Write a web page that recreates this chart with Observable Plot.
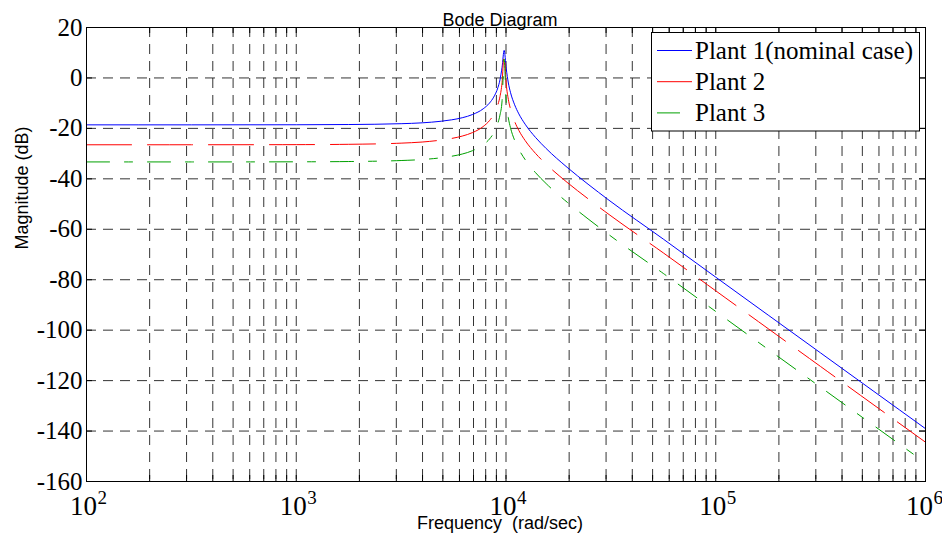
<!DOCTYPE html>
<html><head><meta charset="utf-8">
<script src="https://cdn.jsdelivr.net/npm/d3@7"></script>
<script src="https://cdn.jsdelivr.net/npm/@observablehq/plot@0.6"></script>
<style>body{margin:0;background:#fff;} svg text{white-space:pre;}</style>
</head><body><div id="chart"></div>
<script>
// Frequencies (rad/sec) at which the curves were read
const freqs = [100, 316.2, 1000, 1778, 3162, 3981, 4912, 5511, 6184, 6937, 7784, 8341, 8735, 9146, 9359, 9577, 9800, 10028, 10262, 10501, 10996, 11514, 12337, 13843, 15532, 19554, 24617, 30990, 56234, 100000, 177828, 316228, 562341, 1000000];
// Magnitudes (dB)
const plant1Db = [-18.60, -18.60, -18.56, -18.47, -18.14, -17.80, -17.16, -16.60, -15.78, -14.48, -12.24, -9.97, -7.61, -3.87, -0.78, 4.24, 10.93, 3.63, -2.00, -5.69, -10.65, -14.24, -18.34, -23.63, -27.97, -35.42, -42.13, -48.50, -63.89, -78.99, -94.03, -109.04, -124.05, -139.05];
const plant2Db = [-26.50, -26.49, -26.44, -26.31, -25.85, -25.41, -24.62, -23.98, -23.05, -21.64, -19.27, -16.92, -14.51, -10.63, -7.41, -1.87, 9.83, -2.42, -8.51, -12.29, -17.27, -20.80, -24.81, -29.96, -34.17, -41.39, -47.91, -54.15, -69.36, -84.40, -99.41, -114.42, -129.43, -144.42];
const plant3Db = [-33.30, -33.30, -33.25, -33.14, -32.74, -32.35, -31.64, -31.04, -30.17, -28.81, -26.52, -24.21, -21.83, -17.93, -14.73, -9.09, 7.5, -9.67, -15.88, -19.70, -24.74, -28.30, -32.37, -37.59, -41.88, -49.24, -55.87, -62.19, -77.51, -92.59, -107.62, -122.62, -137.63, -152.63];

const seriesNames = ["Plant 1(nominal case)", "Plant 2", "Plant 3"];
const seriesColors = ["#0000ff", "#ff0000", "#00a000"];
const seriesDash = [null, "45,16", "23,15,8,15"];
const xTickExponents = [2, 3, 4, 5, 6];
const yTicks = [-160, -140, -120, -100, -80, -60, -40, -20, 0, 20];
const titleText = "Bode Diagram";
const xLabel = "Frequency  (rad/sec)";
const yLabel = "Magnitude (dB)";

const W = 942, H = 533, mL = 86, mR = 17, mT = 27, mB = 52;
const fw = W - mL - mR, fh = H - mT - mB;
const serif = "Liberation Serif, 'Times New Roman', serif";
const sans = "Liberation Sans, Arial, sans-serif";

const rows = (db) => freqs.map((f, i) => ({f, db: db[i]}));
const xMinor = [];
for (const e of [2, 3, 4, 5]) for (let m = 1; m <= 9; m++) xMinor.push(m * 10 ** e);
xMinor.push(1e6);
const xGrid = xMinor.filter(v => v > 100 && v < 1e6);
const yGrid = yTicks.filter(v => v > -160 && v < 20);
const series = [plant1Db, plant2Db, plant3Db];
const expMain = xTickExponents.slice(0, -1);
const expLast = xTickExponents.slice(-1);

const xLabelMarks = (data, shift) => [
  Plot.text(data, {x: e => 10 ** e, text: () => "10", frameAnchor: "bottom", textAnchor: "middle",
    lineAnchor: "bottom", dx: -3 + shift, dy: 33, fontFamily: serif, fontSize: 27, fill: "#000"}),
  Plot.text(data, {x: e => 10 ** e, text: e => String(e), frameAnchor: "bottom", textAnchor: "start",
    lineAnchor: "bottom", dx: 11 + shift, dy: 22, fontFamily: serif, fontSize: 19, fill: "#000"})
];

const chart = Plot.plot({
  width: W, height: H, marginLeft: mL, marginRight: mR, marginTop: mT, marginBottom: mB,
  style: {background: "#fff", overflow: "visible"},
  x: {type: "log", domain: [1e2, 1e6], axis: null},
  y: {domain: [-160, 20], axis: null},
  marks: [
    Plot.ruleX(xGrid, {x: d => d, stroke: "#000", strokeOpacity: 0.8, strokeDasharray: "10,7"}),
    Plot.ruleY(yGrid, {y: d => d, stroke: "#000", strokeOpacity: 0.8, strokeDasharray: "10,7"}),
    ...series.map((s, i) => Plot.line(rows(s), {
      x: "f", y: "db", stroke: seriesColors[i], strokeWidth: 1,
      strokeDasharray: seriesDash[i] || undefined, curve: "monotone-x"
    })),
    Plot.frame({stroke: "#000"}),
    Plot.ruleX(xMinor, {x: d => d, insetTop: fh - 6, stroke: "#000"}),
    Plot.ruleX(xMinor, {x: d => d, insetBottom: fh - 6, stroke: "#000"}),
    Plot.ruleY(yTicks, {y: d => d, insetRight: fw - 6, stroke: "#000"}),
    Plot.ruleY(yTicks, {y: d => d, insetLeft: fw - 6, stroke: "#000"}),
    Plot.text(yTicks, {y: d => d, text: d => String(d), frameAnchor: "left", textAnchor: "end",
      lineAnchor: "middle", dx: -4, fontFamily: serif, fontSize: 25, fill: "#000"}),
    ...xLabelMarks(expMain, 0),
    ...xLabelMarks(expLast, -3),
    Plot.text([titleText], {text: d => d, frameAnchor: "top", lineAnchor: "bottom", dy: -2, dx: -6,
      fontFamily: sans, fontSize: 18, fill: "#000"}),
    Plot.text([xLabel], {text: d => d, frameAnchor: "bottom", lineAnchor: "bottom", dy: 47, dx: -6,
      fontFamily: sans, fontSize: 18, fill: "#000"}),
    Plot.text([yLabel], {text: d => d, frameAnchor: "left", rotate: -90, lineAnchor: "bottom", dx: -59, dy: -5,
      fontFamily: sans, fontSize: 18, fill: "#000"})
  ]
});

// Legend (inside the plot, top right)
const svg = d3.select(chart);
const lg = svg.append("g");
lg.append("rect").attr("x", 651.5).attr("y", 32.5).attr("width", 268).attr("height", 98.5)
  .attr("fill", "#fff").attr("stroke", "#000");
seriesNames.forEach((name, i) => {
  const y = 50.5 + i * 31.2;
  const ln = lg.append("line").attr("x1", 657).attr("x2", 692).attr("y1", y).attr("y2", y)
    .attr("stroke", seriesColors[i]).attr("stroke-width", 1);
  if (seriesDash[i]) ln.attr("stroke-dasharray", seriesDash[i]);
  lg.append("text").attr("x", 695).attr("y", y + 8.5).attr("text-anchor", "start")
    .attr("font-family", serif).attr("font-size", 25).attr("fill", "#000").text(name);
});
document.getElementById("chart").appendChild(chart);
</script>
</body></html>
